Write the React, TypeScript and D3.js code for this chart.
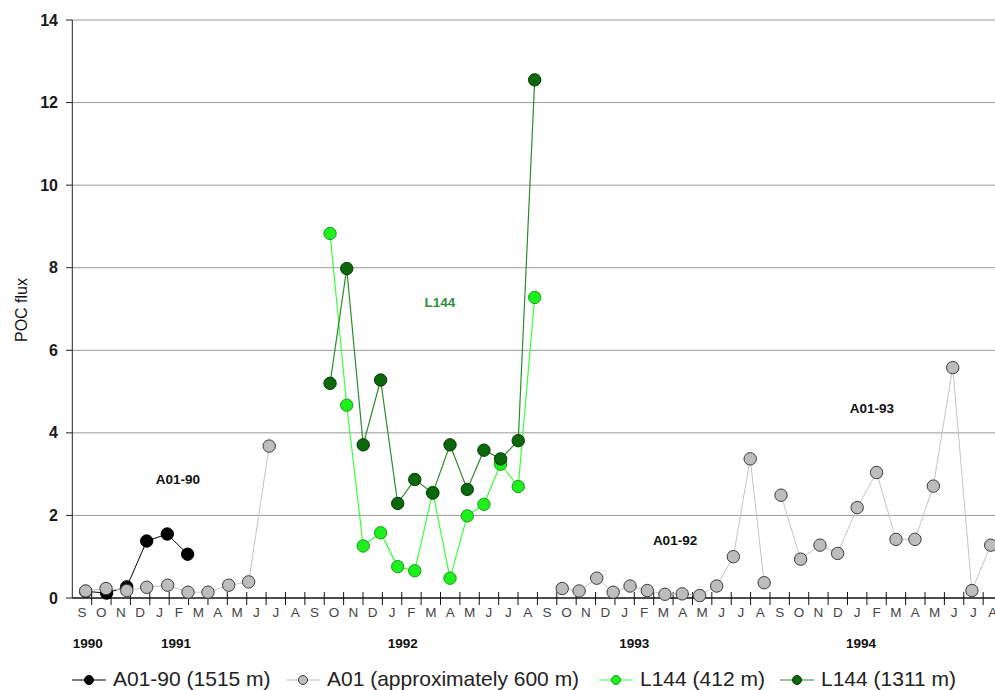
import React from "react";
import * as d3 from "d3";

// Sediment-trap POC flux, monthly axis from Sep 1990 to Aug 1994.
// t = sample time as month index (0 = Sep 1990), v = POC flux.
type Pt = { t: number; v: number } | null;

const monthInitials = ["S", "O", "N", "D", "J", "F", "M", "A", "M", "J", "J", "A"];
const monthCount = 48;
const yTicks = [0, 2, 4, 6, 8, 10, 12, 14];

const yearLabels = ["1990", "1991", "1992", "1993", "1994"];
const yearAt = [0.3, 4.85, 16.55, 28.5, 40.2];

const a0190: Pt[] = [
  { t: 0.19, v: 0.16 },
  { t: 1.27, v: 0.12 },
  { t: 2.31, v: 0.27 },
  { t: 3.34, v: 1.38 },
  { t: 4.4, v: 1.55 },
  { t: 5.45, v: 1.06 },
];

const a01: Pt[] = [
  { t: 0.19, v: 0.17 },
  { t: 1.24, v: 0.23 },
  { t: 2.31, v: 0.18 },
  { t: 3.34, v: 0.26 },
  { t: 4.42, v: 0.31 },
  { t: 5.47, v: 0.14 },
  { t: 6.5, v: 0.14 },
  { t: 7.57, v: 0.31 },
  { t: 8.6, v: 0.39 },
  { t: 9.66, v: 3.68 },
  null,
  { t: 24.78, v: 0.23 },
  { t: 25.65, v: 0.17 },
  { t: 26.56, v: 0.48 },
  { t: 27.41, v: 0.14 },
  { t: 28.28, v: 0.29 },
  { t: 29.17, v: 0.18 },
  { t: 30.08, v: 0.09 },
  { t: 30.97, v: 0.1 },
  { t: 31.87, v: 0.06 },
  { t: 32.75, v: 0.29 },
  { t: 33.61, v: 1.0 },
  { t: 34.48, v: 3.37 },
  { t: 35.2, v: 0.37 },
  null,
  { t: 36.07, v: 2.49 },
  { t: 37.08, v: 0.94 },
  { t: 38.08, v: 1.28 },
  { t: 38.99, v: 1.08 },
  { t: 40.0, v: 2.19 },
  { t: 41.0, v: 3.04 },
  { t: 42.0, v: 1.42 },
  { t: 42.98, v: 1.42 },
  { t: 43.93, v: 2.71 },
  { t: 44.93, v: 5.58 },
  { t: 45.92, v: 0.18 },
  { t: 46.89, v: 1.28 },
];

const l144Shallow: Pt[] = [
  { t: 12.8, v: 8.83 },
  { t: 13.66, v: 4.67 },
  { t: 14.51, v: 1.26 },
  { t: 15.41, v: 1.58 },
  { t: 16.29, v: 0.76 },
  { t: 17.17, v: 0.66 },
  { t: 18.1, v: 2.56 },
  { t: 18.99, v: 0.48 },
  { t: 19.88, v: 1.99 },
  { t: 20.74, v: 2.27 },
  { t: 21.6, v: 3.24 },
  { t: 22.51, v: 2.7 },
  { t: 23.36, v: 7.28 },
];

const l144Deep: Pt[] = [
  { t: 12.8, v: 5.2 },
  { t: 13.66, v: 7.98 },
  { t: 14.51, v: 3.71 },
  { t: 15.41, v: 5.28 },
  { t: 16.29, v: 2.29 },
  { t: 17.17, v: 2.87 },
  { t: 18.1, v: 2.54 },
  { t: 18.99, v: 3.71 },
  { t: 19.88, v: 2.63 },
  { t: 20.74, v: 3.58 },
  { t: 21.6, v: 3.37 },
  { t: 22.51, v: 3.81 },
  { t: 23.36, v: 12.55 },
];

const seriesNames = ["A01-90 (1515 m)", "A01 (approximately 600 m)", "L144 (412 m)", "L144 (1311 m)"];

const annotations = [
  { text: "A01-90", t: 4.95, v: 2.88, color: "#111" },
  { text: "L144", t: 18.47, v: 7.17, color: "#2f8f3f" },
  { text: "A01-92", t: 30.6, v: 1.41, color: "#111" },
  { text: "A01-93", t: 40.76, v: 4.6, color: "#111" },
];

const W = 995;
const H = 690;
const FONT = "'Liberation Sans', Arial, Helvetica, sans-serif";

const styles = [
  { line: "#000000", lineW: 1, fill: "#000000", stroke: "#000000" },
  { line: "#c4c4c4", lineW: 1, fill: "#bdbdbd", stroke: "#3a3a3a" },
  { line: "#3cff3c", lineW: 1.2, fill: "#1ef01e", stroke: "#1c9a1c" },
  { line: "#2d8a2d", lineW: 1.2, fill: "#0b690b", stroke: "#063806" },
];

export default function App() {
  const x = d3.scaleLinear().domain([-0.5, 47.5]).range([72.3, 72.3 + 48 * 19.38]);
  const y = d3.scaleLinear().domain([0, 14]).range([598, 20]);

  const line = d3
    .line<Pt>()
    .defined((d) => d !== null)
    .x((d) => x((d as any).t))
    .y((d) => y((d as any).v));

  const allSeries = [a0190, a01, l144Shallow, l144Deep];
  const xTickPos = d3.range(0, monthCount).map((i) => i + 0.5);
  const months = d3.range(monthCount).map((i) => monthInitials[i % 12]);

  const legendItems = [
    { textX: 113 },
    { textX: 327 },
    { textX: 640 },
    { textX: 821 },
  ];

  return (
    <div style={{ position: "absolute", left: 0, top: 0 }}>
      <svg width={W} height={H} style={{ display: "block", background: "#fff" }} fontFamily={FONT}>
        {/* horizontal gridlines */}
        {yTicks.slice(1).map((v) => (
          <line key={"g" + v} x1={x(-0.5)} x2={W} y1={y(v)} y2={y(v)} stroke="#9a9a9a" strokeWidth={1} />
        ))}
        {/* y axis */}
        <line x1={x(-0.5)} x2={x(-0.5)} y1={y(14)} y2={y(0)} stroke="#222" strokeWidth={1} />
        {yTicks.map((v) => (
          <g key={"yt" + v}>
            <line x1={66} x2={x(-0.5)} y1={y(v)} y2={y(v)} stroke="#222" />
            <text x={58} y={y(v) + 5.5} textAnchor="end" fontSize={16} fill="#1a1a1a" fontWeight="bold">
              {v}
            </text>
          </g>
        ))}
        <text
          transform={`translate(27,${y(7) + 1}) rotate(-90)`}
          textAnchor="middle"
          fontSize={16}
          fill="#111"
        >
          POC flux
        </text>

        {/* x axis */}
        <line x1={x(-0.5)} x2={W} y1={y(0)} y2={y(0)} stroke="#111" strokeWidth={1.3} />
        {xTickPos.map((p) => (
          <line key={"xt" + p} x1={x(p)} x2={x(p)} y1={y(0) - 6} y2={y(0) + 7} stroke="#111" />
        ))}
        {months.map((m, i) => (
          <text key={"m" + i} x={x(i)} y={617} textAnchor="middle" fontSize={13.5} fill="#444">
            {m}
          </text>
        ))}
        {yearLabels.map((yl, i) => (
          <text key={yl} x={x(yearAt[i])} y={648} textAnchor="middle" fontSize={13.5} fontWeight="bold" fill="#111">
            {yl}
          </text>
        ))}

        {/* series */}
        {allSeries.map((s, si) => (
          <g key={"s" + si}>
            <path d={line(s) || ""} fill="none" stroke={styles[si].line} strokeWidth={styles[si].lineW} />
            {s
              .filter((d) => d !== null)
              .map((d, di) => (
                <circle
                  key={di}
                  cx={x((d as any).t)}
                  cy={y((d as any).v)}
                  r={6.2}
                  fill={styles[si].fill}
                  stroke={styles[si].stroke}
                  strokeWidth={1}
                />
              ))}
          </g>
        ))}

        {/* annotations */}
        {annotations.map((a) => (
          <text
            key={a.text}
            x={x(a.t)}
            y={y(a.v) + 5}
            textAnchor="middle"
            fontSize={13.5}
            fontWeight="bold"
            fill={a.color}
          >
            {a.text}
          </text>
        ))}

        {/* legend */}
        {seriesNames.map((name, i) => {
          const tx = legendItems[i].textX;
          const mx = tx - 24;
          return (
            <g key={"lg" + i}>
              <line x1={mx - 17} x2={mx + 17} y1={680} y2={680} stroke={styles[i].line} strokeWidth={1.2} />
              <circle cx={mx} cy={680} r={4.5} fill={styles[i].fill} stroke={styles[i].stroke} strokeWidth={1} />
              <text x={tx} y={686} fontSize={21} fill="#222">
                {name}
              </text>
            </g>
          );
        })}
      </svg>
    </div>
  );
}
